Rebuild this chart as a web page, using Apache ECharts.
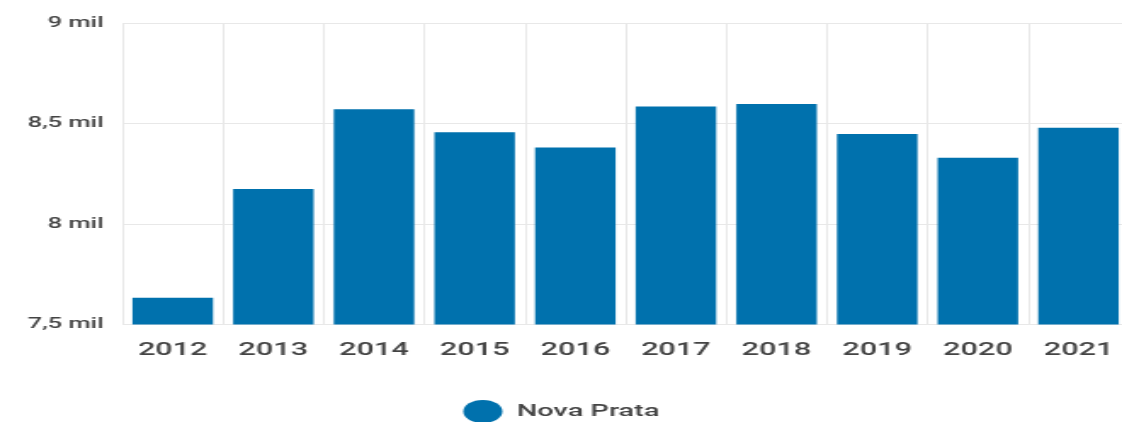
<!DOCTYPE html>
<html>
<head>
<meta charset="utf-8">
<script src="https://cdn.jsdelivr.net/npm/echarts@6/dist/echarts.min.js"></script>
<style>
html, body { margin: 0; padding: 0; background: #ffffff; overflow: hidden; width: 1122px; height: 422px; }
#chart { width: 670px; height: 422px; transform: scaleX(1.7); transform-origin: 0 0; }
</style>
</head>
<body>
<div id="chart"></div>
<script>
var categories = ['2012', '2013', '2014', '2015', '2016', '2017', '2018', '2019', '2020', '2021'];
var seriesName = 'Nova Prata';
var values = [7633, 8174, 8571, 8456, 8380, 8584, 8597, 8448, 8330, 8479];
var yMin = 7500, yMax = 9000, yStep = 500;

var chart = echarts.init(document.getElementById('chart'), null, { renderer: 'canvas' });
chart.setOption({
  animation: false,
  backgroundColor: '#ffffff',
  grid: { left: 72, right: 6, top: 23, bottom: 97.5 },
  legend: {
    data: [seriesName],
    left: 267.5,
    top: 395,
    itemWidth: 30,
    itemHeight: 23,
    itemGap: 10,
    icon: 'path://M0,50 A50,50 0 1,1 100,50 A50,50 0 1,1 0,50 Z',
    textStyle: { fontFamily: 'Roboto', fontSize: 17, color: '#444', fontWeight: 500 }
  },
  xAxis: {
    type: 'category',
    data: categories,
    axisLine: { show: false },
    axisTick: { show: false },
    splitLine: { show: true, lineStyle: { color: '#e8e8e8', width: 1 } },
    axisLabel: { margin: 17, fontFamily: 'Roboto', fontSize: 18, color: '#444', fontWeight: 500 }
  },
  yAxis: {
    type: 'value',
    min: yMin, max: yMax, interval: yStep,
    axisLine: { show: false },
    axisTick: { show: false },
    splitLine: { show: true, lineStyle: { color: '#e8e8e8', width: 1 } },
    axisLabel: {
      margin: 11,
      fontFamily: 'Roboto', fontSize: 15, color: '#444', fontWeight: 500,
      formatter: function (v) { return String(v / 1000).replace('.', ',') + ' mil'; }
    }
  },
  series: [{
    name: seriesName,
    type: 'bar',
    data: values,
    barCategoryGap: '20%',
    itemStyle: { color: '#0071ad' }
  }]
});
</script>
</body>
</html>
